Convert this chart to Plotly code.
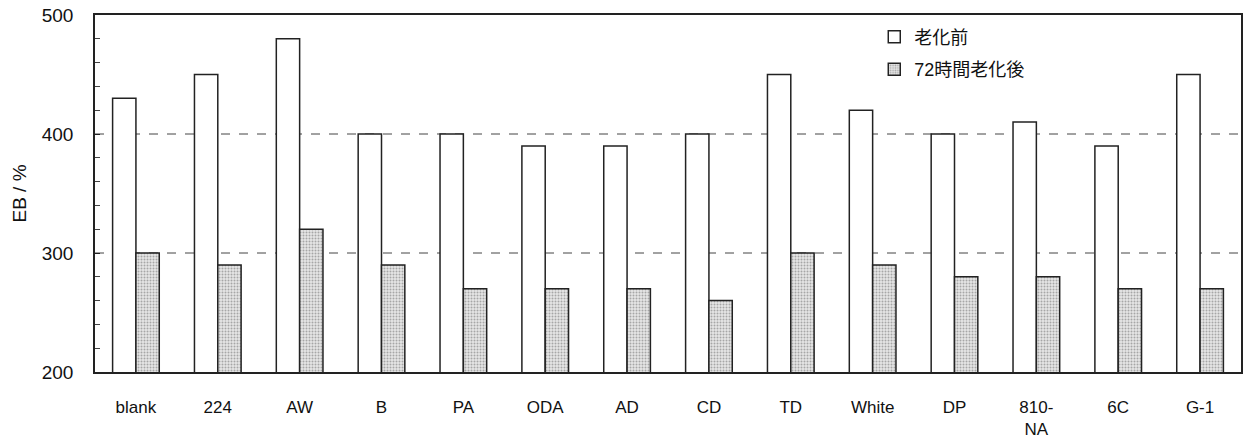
import plotly.graph_objects as go

categories = ["blank", "224", "AW", "B", "PA", "ODA", "AD", "CD", "TD", "White", "DP", "810-<br>NA", "6C", "G-1"]
before = [430, 450, 480, 400, 400, 390, 390, 400, 450, 420, 400, 410, 390, 450]
after = [300, 290, 320, 290, 270, 270, 270, 260, 300, 290, 280, 280, 270, 270]
series_names = ["老化前", "72時間老化後"]

font_family = "Liberation Sans, Noto Sans CJK JP, sans-serif"

fig = go.Figure()
fig.add_trace(go.Bar(
    x=categories, y=before, name=series_names[0], base=0, legendgroup="a",
    marker=dict(color="white", line=dict(color="#222", width=1.5)),
))
fig.add_trace(go.Bar(
    x=categories, y=after, name=series_names[1], base=0, legendgroup="b",
    marker=dict(color="#d8d8d8", line=dict(color="#222", width=1.5),
                pattern=dict(shape=".", fgcolor="#666", bgcolor="#e6e6e6", size=3, solidity=0.35)),
))

fig.update_layout(
    width=1255, height=441,
    margin=dict(l=95, r=14, t=15, b=69),
    paper_bgcolor="white", plot_bgcolor="white",
    barmode="group", bargap=0.43, bargroupgap=0,
    font=dict(family=font_family, color="#111"),
    showlegend=True,
    legend=dict(x=0.68, y=0.99, xanchor="left", yanchor="top",
                font=dict(size=18, color="#111"), bgcolor="rgba(0,0,0,0)",
                tracegroupgap=6, itemwidth=30),
    xaxis=dict(
        showline=True, linecolor="#222", linewidth=1.5, mirror=True,
        ticks="", tickfont=dict(size=17), ticklabelstandoff=19,
        showgrid=False, automargin=False,
    ),
    yaxis=dict(
        range=[200, 500], tickvals=[200, 300, 400, 500],
        showline=True, linecolor="#222", linewidth=1.5, mirror=True,
        ticks="inside", ticklen=5, tickcolor="#222",
        minor=dict(dtick=20, ticks="inside", ticklen=5, tickcolor="#444", showgrid=False),
        showgrid=False, automargin=False,
        tickfont=dict(size=19), ticklabelstandoff=16,
        title=dict(text="EB / %", font=dict(size=19), standoff=10),
        zeroline=False,
    ),
)

for v in [300, 400]:
    fig.add_hline(y=v, line=dict(color="#444", width=1, dash="dash"), layer="below")

fig.write_html("out.html", config={"displayModeBar": False},
               post_script="document.body.style.margin='0';")
